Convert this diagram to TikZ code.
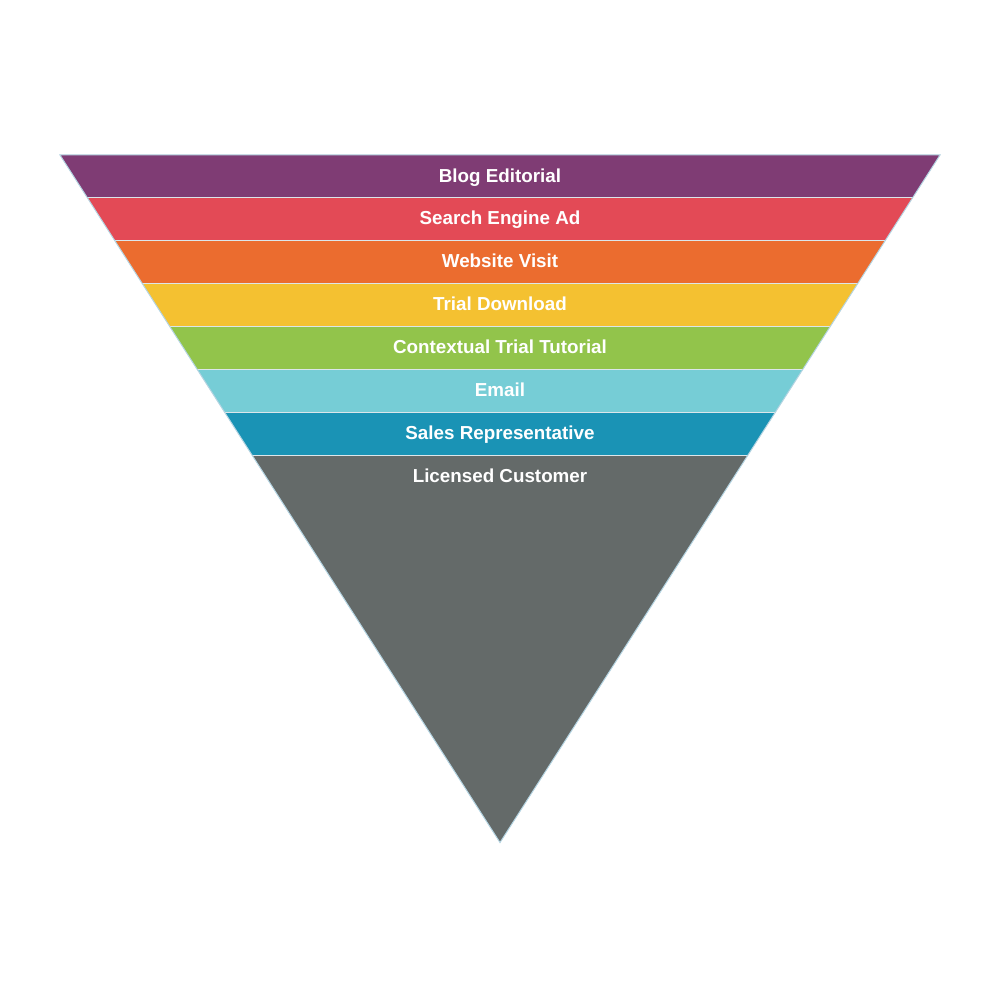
\documentclass[tikz,border=0pt]{standalone}
\usepackage{fontspec}
\setmainfont{Liberation Sans}
\definecolor{cPurple}{HTML}{7F3C74}
\definecolor{cRed}{HTML}{E34A56}
\definecolor{cOrange}{HTML}{EB6C2F}
\definecolor{cYellow}{HTML}{F4C131}
\definecolor{cGreen}{HTML}{92C44B}
\definecolor{cCyan}{HTML}{76CDD6}
\definecolor{cTeal}{HTML}{1A93B5}
\definecolor{cGray}{HTML}{646A69}
\definecolor{cEdge}{HTML}{B4D4E2}
\definecolor{cSep}{HTML}{DCE6EA}
\tikzset{
  bandlabel/.style={text=white, font=\fontsize{9.4pt}{11pt}\selectfont\bfseries, anchor=center, text height=0.716em, text depth=0pt, inner sep=0pt},
  sepline/.style={draw=cSep, line width=0.6pt},
  outline/.style={draw=cEdge, line width=0.5pt, line join=miter}
}
\begin{document}
\begin{tikzpicture}[x=0.5pt,y=-0.5pt]
\useasboundingbox (0,0) rectangle (1000,1000);
\fill[white] (0,0) rectangle (1000,1000);
\foreach \c [count=\i from 0] in {cPurple,cRed,cOrange,cYellow,cGreen,cCyan,cTeal} {
  \pgfmathsetmacro\ya{155+42.9*\i}
  \pgfmathsetmacro\yb{155+42.9*(\i+1)}
  \pgfmathsetmacro\wa{0.64*(842.5-\ya)}
  \pgfmathsetmacro\wb{0.64*(842.5-\yb)}
  \fill[\c] (500-\wa,\ya) -- (500+\wa,\ya) -- (500+\wb,\yb) -- (500-\wb,\yb) -- cycle;
}
\pgfmathsetmacro\yl{155+42.9*7}
\pgfmathsetmacro\wl{0.64*(842.5-\yl)}
\fill[cGray] (500-\wl,\yl) -- (500+\wl,\yl) -- (500,842.5) -- cycle;
\foreach \i in {1,...,7} {
  \pgfmathsetmacro\ya{155+42.9*\i}
  \pgfmathsetmacro\wa{0.64*(842.5-\ya)}
  \draw[sepline] (500-\wa,\ya) -- (500+\wa,\ya);
}
\draw[outline] (60,155) -- (940,155) -- (500,842.5) -- cycle;
\node[bandlabel] (l1) at (500,175) {Blog Editorial};
\node[bandlabel] (l2) at (500,217.5) {Search Engine Ad};
\node[bandlabel] (l3) at (500,260.5) {Website Visit};
\node[bandlabel] (l4) at (500,303) {Trial Download};
\node[bandlabel] (l5) at (500,346) {Contextual Trial Tutorial};
\node[bandlabel] (l6) at (500,389) {Email};
\node[bandlabel] (l7) at (500,432.5) {Sales Representative};
\node[bandlabel] (l8) at (500,475.5) {Licensed Customer};
\end{tikzpicture}
\end{document}
